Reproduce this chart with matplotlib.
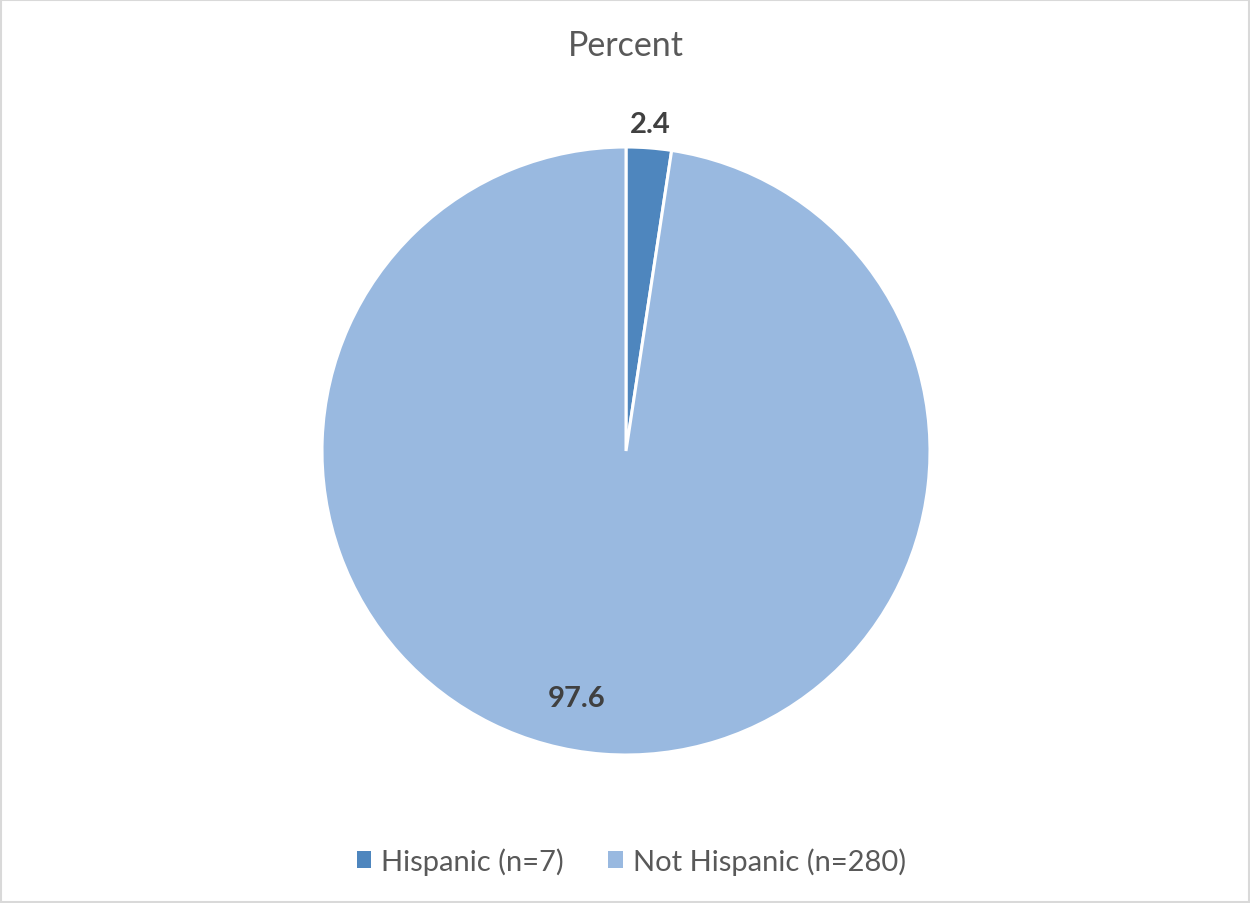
import numpy as np
import matplotlib.pyplot as plt
from matplotlib.patches import Rectangle

labels = ['Hispanic (n=7)', 'Not Hispanic (n=280)']
values = [2.4, 97.6]
colors = ['#4e86be', '#99b9e0']

plt.rcParams['font.family'] = ['Lato', 'DejaVu Sans']

fig = plt.figure(figsize=(12.5, 9.04), dpi=100)
fig.patches.append(Rectangle((0.001, 0.001), 0.998, 0.998, transform=fig.transFigure,
                             fill=False, edgecolor='#d9d9d9', linewidth=1.5))

# square axes for the pie, centre ~ (626, 452) px, radius ~304 px
cx, cy, r = 626, 904 - 452, 304
ax = fig.add_axes([(cx - r) / 1250, (cy - r) / 904, 2 * r / 1250, 2 * r / 904])
wedges, _ = ax.pie(values, colors=colors, startangle=90, counterclock=False,
                   radius=1, wedgeprops=dict(edgecolor='white', linewidth=2.2))
ax.set_xlim(-1, 1)
ax.set_ylim(-1, 1)
ax.set_aspect('equal')
ax.axis('off')

# data labels
dist = [1.08, 0.83]
shift = [0, -7]
for w, v, d, s in zip(wedges, values, dist, shift):
    ang = np.deg2rad((w.theta1 + w.theta2) / 2 + s)
    ax.text(d * np.cos(ang), d * np.sin(ang), f'{v:.1f}', ha='center', va='center',
            fontsize=21, fontweight='bold', color='#404040')

fig.text(0.5008, 1 - 46 / 904, 'Percent', ha='center', va='center', fontsize=24.5, color='#595959')

leg = fig.legend(wedges, labels, loc='center', bbox_to_anchor=(0.505, 1 - 862 / 904), ncol=2,
                 frameon=False, fontsize=21, labelcolor='#595959', handlelength=0.5,
                 handleheight=0.5, handletextpad=0.35, columnspacing=1.5)
for h in leg.legend_handles:
    h.set_edgecolor('none')

fig.savefig('out.png', dpi=100)
